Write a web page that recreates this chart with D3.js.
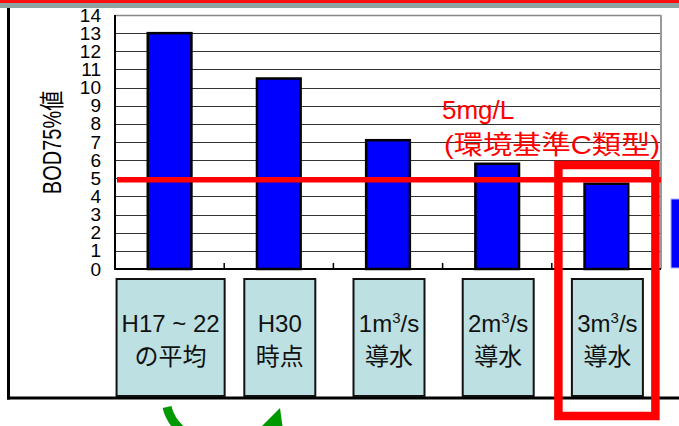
<!DOCTYPE html>
<html>
<head>
<meta charset="utf-8">
<script src="https://cdn.jsdelivr.net/npm/d3@7/dist/d3.min.js"></script>
<style>
  html, body { margin: 0; padding: 0; background: #fff; }
  svg { display: block; }
  text { font-family: "Liberation Sans", Arial, "Noto Sans CJK JP", sans-serif; }
</style>
</head>
<body>
<svg id="chart" width="679" height="426"></svg>
<script>
// BOD 75% values per scenario (mg/L)
const categories = ["H17～22の平均", "H30時点", "1m³/s導水", "2m³/s導水", "3m³/s導水"];
const labelLines = [["H17 ~ 22", "の平均"], ["H30", "時点"], ["1m³/s", "導水"], ["2m³/s", "導水"], ["3m³/s", "導水"]];
const bodValues = [13, 10.5, 7.1, 5.8, 4.7];
const yTicks = [0, 1, 2, 3, 4, 5, 6, 7, 8, 9, 10, 11, 12, 13, 14];
const standardValue = 5;
const standardLabel = ["5mg/L", "(環境基準C類型)"];
const yTitle = "BOD75%値";
const highlighted = "3m³/s導水";

const svg = d3.select("#chart");
const W = 679, H = 426;
const plot = { left: 115, right: 661, top: 15, bottom: 269 };

const x = d3.scaleBand()
  .domain(categories)
  .range([plot.left, plot.right])
  .paddingInner(0.6)
  .paddingOuter(0.3);

const y = d3.scaleLinear()
  .domain([0, 14])
  .range([plot.bottom, plot.top]);

// slide header stripes
svg.append("rect").attr("x", 0).attr("y", 0).attr("width", W).attr("height", 3).attr("fill", "#ff1010");
svg.append("rect").attr("x", 0).attr("y", 3).attr("width", W).attr("height", 5).attr("fill", "#8fa3a3");

// outer panel frame (left and bottom)
svg.append("line").attr("x1", 8.5).attr("x2", 8.5).attr("y1", 8).attr("y2", 399.5)
  .attr("stroke", "#000").attr("stroke-width", 3);
svg.append("line").attr("x1", 7).attr("x2", W).attr("y1", 398).attr("y2", 398)
  .attr("stroke", "#000").attr("stroke-width", 3);

// gridlines
svg.append("g")
  .selectAll("line")
  .data(yTicks.filter(t => t > 0 && t < 14))
  .join("line")
  .attr("x1", plot.left).attr("x2", plot.right)
  .attr("y1", d => Math.round(y(d)) + 0.5).attr("y2", d => Math.round(y(d)) + 0.5)
  .attr("stroke", "#333").attr("stroke-width", 1);

// plot frame: top and right in grey
svg.append("line").attr("x1", plot.left).attr("x2", plot.right)
  .attr("y1", plot.top + 0.5).attr("y2", plot.top + 0.5)
  .attr("stroke", "#888").attr("stroke-width", 1.5);
svg.append("line").attr("x1", plot.right).attr("x2", plot.right)
  .attr("y1", plot.top).attr("y2", plot.bottom)
  .attr("stroke", "#999").attr("stroke-width", 2);

// y axis labels (tall, tightly packed digits)
const yAxis = d3.axisLeft(y).tickValues(yTicks).tickSize(0).tickPadding(14);
const gy = svg.append("g").attr("transform", `translate(${plot.left},0)`).call(yAxis);
gy.select(".domain").remove();
gy.selectAll("text").attr("font-size", 19).attr("fill", "#000")
  .style("font-family", '"Liberation Sans", Arial, sans-serif');

svg.append("line").attr("x1", plot.left).attr("x2", plot.left)
  .attr("y1", plot.top).attr("y2", plot.bottom + 1)
  .attr("stroke", "#000").attr("stroke-width", 2);

// y title
svg.append("text")
  .attr("transform", `translate(61,142.5) rotate(-90) scale(1,1.25)`)
  .attr("text-anchor", "middle")
  .attr("font-size", 20)
  .attr("fill", "#000")
  .text(yTitle);

// bars
svg.append("g")
  .selectAll("rect")
  .data(bodValues)
  .join("rect")
  .attr("x", (d, i) => x(categories[i]))
  .attr("y", d => y(d))
  .attr("width", x.bandwidth())
  .attr("height", d => y(0) - y(d))
  .attr("fill", "#0000ff")
  .attr("stroke", "#000")
  .attr("stroke-width", 2.5);

// x axis with inner tick marks between categories
const step = x.step();
const boundaries = categories.slice(1).map(c => x(c) - x.paddingInner() * step / 2);
svg.append("g").selectAll("line")
  .data(boundaries)
  .join("line")
  .attr("x1", d => d).attr("x2", d => d)
  .attr("y1", plot.bottom - 6).attr("y2", plot.bottom)
  .attr("stroke", "#000").attr("stroke-width", 1.5);
svg.append("line").attr("x1", plot.left).attr("x2", plot.right)
  .attr("y1", plot.bottom).attr("y2", plot.bottom)
  .attr("stroke", "#000").attr("stroke-width", 2);

// environmental standard line
svg.append("line")
  .attr("x1", plot.left + 2).attr("x2", plot.right)
  .attr("y1", y(standardValue) + 1.5).attr("y2", y(standardValue) + 1.5)
  .attr("stroke", "#ff0000").attr("stroke-width", 5.5);

svg.append("text").attr("x", 442).attr("y", 119)
  .attr("font-size", 26).attr("fill", "#ff0000")
  .text(standardLabel[0]);
svg.append("text").attr("x", 444).attr("y", 154)
  .attr("font-size", 26).attr("fill", "#ff0000")
  .attr("textLength", 216).attr("lengthAdjust", "spacingAndGlyphs")
  .text(standardLabel[1]);

// category label boxes
const boxTop = 279, boxBottom = 396;
const catG = svg.append("g");
categories.forEach((c, i) => {
  const cx = x(c) + x.bandwidth() / 2;
  const g = catG.append("g");
  const rect = g.append("rect");
  const lines = labelLines[i];
  let maxW = 0;
  const texts = lines.map((ln, k) => {
    const t = g.append("text")
      .attr("x", cx)
      .attr("y", k === 0 ? 332 : 365)
      .attr("text-anchor", "middle")
      .attr("font-size", 24)
      .attr("fill", "#111");
    const parts = ln.split("³");
    if (parts.length > 1) {
      t.append("tspan").text(parts[0]);
      t.append("tspan").attr("font-size", 15).attr("dy", -9).text("3");
      t.append("tspan").attr("dy", 9).text(parts[1]);
    } else {
      t.text(ln);
    }
    maxW = Math.max(maxW, t.node().getComputedTextLength());
    return t;
  });
  const bw = Math.max(71, maxW + 10);
  rect.attr("x", cx - bw / 2 + 1).attr("y", boxTop)
    .attr("width", bw).attr("height", boxBottom - boxTop)
    .attr("fill", "#bde0e2")
    .attr("stroke", "#111").attr("stroke-width", 2);
  texts.forEach(t => t.attr("x", cx + 1));
});

// highlight frame around the selected scenario
const hx = x(highlighted) + x.bandwidth() / 2;
svg.append("rect")
  .attr("x", hx - 48).attr("y", 165)
  .attr("width", 97).attr("height", 251)
  .attr("fill", "none")
  .attr("stroke", "#ff0000").attr("stroke-width", 8.5);

// adjacent panel edge on the right
svg.append("rect").attr("x", 671).attr("y", 199).attr("width", 10).attr("height", 69)
  .attr("fill", "#0000ff").attr("stroke", "#aab4ff").attr("stroke-width", 1);

// green arrows below the panel
svg.append("path")
  .attr("d", "M167,407 Q170,420 181,430")
  .attr("fill", "none").attr("stroke", "#009a00").attr("stroke-width", 9);
svg.append("path")
  .attr("d", "M280,408 L283,430 L258,430 Z")
  .attr("fill", "#009a00");
</script>
</body>
</html>
